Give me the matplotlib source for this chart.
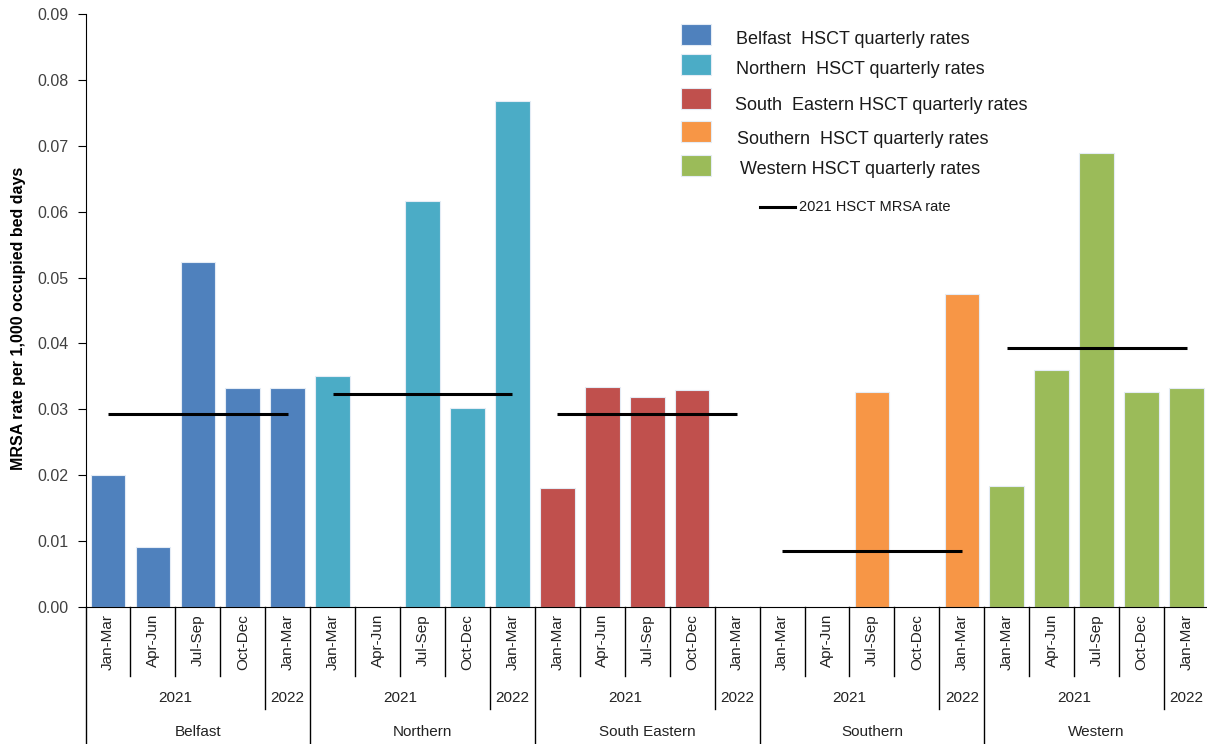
import numpy as np
import matplotlib
matplotlib.use("Agg")
from matplotlib import pyplot as plt
from matplotlib.patches import Rectangle
from matplotlib.lines import Line2D

regions = ['Belfast', 'Northern', 'South Eastern', 'Southern', 'Western']
quarters = ['Jan-Mar', 'Apr-Jun', 'Jul-Sep', 'Oct-Dec', 'Jan-Mar']
years = ['2021', '2022']

# quarterly MRSA rates per 1,000 occupied bed days (nan = no bar)
belfast = [0.0200, 0.0091, 0.0523, 0.0332, 0.0332]
northern = [0.0350, np.nan, 0.0616, 0.0302, 0.0768]
south_eastern = [0.0181, 0.0334, 0.0319, 0.0329, np.nan]
southern = [np.nan, np.nan, 0.0326, np.nan, 0.0475]
western = [0.0184, 0.0360, 0.0689, 0.0326, 0.0332]

# 2021 annual HSCT rate
annual_rate = [0.0293, 0.0324, 0.0293, 0.0085, 0.0393]

colors = ['#4F81BD', '#4BACC6', '#C0504D', '#F79646', '#9BBB59']
legend_labels = ['Belfast  HSCT quarterly rates', 'Northern  HSCT quarterly rates',
                 'South  Eastern HSCT quarterly rates', 'Southern  HSCT quarterly rates',
                 'Western HSCT quarterly rates']

plt.rcParams['font.family'] = ['Liberation Sans', 'DejaVu Sans']

W, H = 1207, 744
fig = plt.figure(figsize=(W / 100, H / 100), dpi=100)
ax_l, ax_r, ax_t, ax_b = 85.5, 1209, 14, 607
ax = fig.add_axes([ax_l / W, 1 - ax_b / H, (ax_r - ax_l) / W, (ax_b - ax_t) / H])
axh = ax_b - ax_t

series = [belfast, northern, south_eastern, southern, western]
n = len(quarters)
for g, (vals, col) in enumerate(zip(series, colors)):
    xs = np.arange(n) + g * n
    vals = np.array(vals)
    ok = ~np.isnan(vals)
    ax.bar(xs[ok], vals[ok], width=0.77, color=col, edgecolor='#e4ecf5', linewidth=0.8, zorder=2)
    ax.hlines(annual_rate[g], g * n, g * n + n - 1, color='black', lw=2.2, zorder=3)

ax.set_xlim(-0.5, n * len(regions) - 0.5)
ax.set_ylim(0, 0.09)
ax.set_yticks(np.arange(0, 0.0901, 0.01))
ax.set_yticklabels([f'{v:.2f}' for v in np.arange(0, 0.0901, 0.01)])
ax.tick_params(axis='y', direction='out', length=6, pad=6, labelsize=11.5, labelcolor='#404040')
ax.set_xticks([])
for s in ['top', 'right']:
    ax.spines[s].set_visible(False)
ax.spines['left'].set_color('black')
ax.spines['bottom'].set_color('black')
ax.set_ylabel('MRSA rate per 1,000 occupied bed days', fontsize=11.5, fontweight='bold')
ax.yaxis.set_label_coords(-(85.5 - 26) / (ax_r - ax_l), (ax_b - 318) / axh)

# multi-level category axis
tr = ax.get_xaxis_transform()
y_q = -(676 - ax_b) / axh
y_y = -(709 - ax_b) / axh
y_r = -(744 - ax_b) / axh
for i in range(n * len(regions) + 1):
    x = i - 0.5
    if i % n == 0:
        y_end = y_r
    elif i % n == n - 1:
        y_end = y_y
    else:
        y_end = y_q
    ax.plot([x, x], [0, y_end], transform=tr, color='black', lw=1, clip_on=False)

for g, reg in enumerate(regions):
    for q, lab in enumerate(quarters):
        ax.text(g * n + q, -7 / axh, lab, transform=tr, rotation=90, ha='center', va='top',
                fontsize=11, color='#222222')
    ax.text(g * n + 1.5, -(698 - ax_b) / axh, years[0], transform=tr, ha='center', va='center',
            fontsize=11, color='#222222')
    ax.text(g * n + 4, -(698 - ax_b) / axh, years[1], transform=tr, ha='center', va='center',
            fontsize=11, color='#222222')
    ax.text(g * n + 2, -(732 - ax_b) / axh, reg, transform=tr, ha='center', va='center',
            fontsize=11, color='#222222')

# legend drawn in figure pixel positions
def fx(x):
    return x / W

def fy(y):
    return 1 - y / H

patch_y = [34, 64.5, 98.5, 131.5, 165.5]
text_y = [39, 70, 105, 139, 169]
text_x = [736, 736, 735, 737, 740]
for py, ty, tx, col, lab in zip(patch_y, text_y, text_x, colors, legend_labels):
    fig.add_artist(Rectangle((fx(681), fy(py + 10.5)), 30 / W, 21 / H, facecolor=col,
                             edgecolor='#e4ecf5', lw=0.8, transform=fig.transFigure))
    fig.text(fx(tx), fy(ty), lab, ha='left', va='center', fontsize=13, color='#1a1a1a')

fig.add_artist(Line2D([fx(760), fx(795)], [fy(206.5), fy(206.5)], color='black', lw=2.2,
                      transform=fig.transFigure))
fig.text(fx(799), fy(207), '2021 HSCT MRSA rate', ha='left', va='center', fontsize=10.5,
         color='#1a1a1a')

fig.savefig('out.png', dpi=100)
